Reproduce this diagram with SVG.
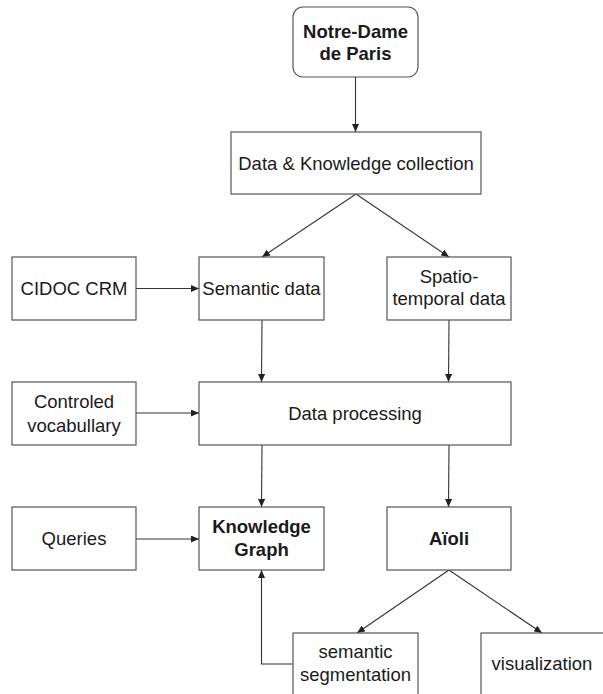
<svg xmlns="http://www.w3.org/2000/svg" width="603" height="694" viewBox="0 0 603 694">
<defs>
<marker id="arr" markerUnits="userSpaceOnUse" markerWidth="8" markerHeight="7" refX="8" refY="3.5" orient="auto">
<path d="M0,0 L8,3.5 L0,7 z" fill="#222"/>
</marker>
<style>
.box{fill:#fff;stroke:#555;stroke-width:1.2}
.t{font-family:"Liberation Sans",Arial,sans-serif;font-size:18.5px;fill:#1a1a1a;text-anchor:middle}
.b{font-weight:bold}
.c{fill:none;stroke:#333;stroke-width:1.1;marker-end:url(#arr)}
</style>
</defs>
<rect width="603" height="694" fill="#fff"/>
<g id="connectors">
<path class="c" d="M355.5,77 L355.5,132"/>
<path class="c" d="M356,194 L262,257"/>
<path class="c" d="M356,194 L449,257"/>
<path class="c" d="M136,288.5 L199,288.5"/>
<path class="c" d="M262,320 L261.5,382"/>
<path class="c" d="M449,320 L448.5,382"/>
<path class="c" d="M136,413 L199,413"/>
<path class="c" d="M262,445 L261.5,507"/>
<path class="c" d="M449,445 L448.5,507"/>
<path class="c" d="M136,539 L199,539"/>
<path class="c" d="M449,570 L357,633"/>
<path class="c" d="M449,570 L542,633"/>
<path class="c" d="M293,664 L261.5,664 L261.5,570"/>
</g>
<g id="notre-dame">
<rect class="box" x="293" y="7" width="125" height="70" rx="10"/>
<text class="t b" x="355.5" y="37.5">Notre-Dame</text>
<text class="t b" x="355.5" y="59.5">de Paris</text>
</g>
<g id="collection">
<rect class="box" x="231" y="132" width="250" height="62"/>
<text class="t" x="356" y="169.5">Data &amp; Knowledge collection</text>
</g>
<g id="cidoc">
<rect class="box" x="12" y="257" width="124" height="63"/>
<text class="t" x="74" y="295">CIDOC CRM</text>
</g>
<g id="semantic-data">
<rect class="box" x="199" y="257" width="125" height="63"/>
<text class="t" x="261.5" y="295">Semantic data</text>
</g>
<g id="spatio">
<rect class="box" x="387" y="257" width="124" height="63"/>
<text class="t" x="449" y="282.5">Spatio-</text>
<text class="t" x="449" y="305">temporal data</text>
</g>
<g id="vocabulary">
<rect class="box" x="12" y="382" width="124" height="63"/>
<text class="t" x="74" y="408">Controled</text>
<text class="t" x="74" y="432">vocabullary</text>
</g>
<g id="processing">
<rect class="box" x="199" y="382" width="312" height="63"/>
<text class="t" x="355" y="420">Data processing</text>
</g>
<g id="queries">
<rect class="box" x="12" y="507" width="124" height="63"/>
<text class="t" x="74" y="545">Queries</text>
</g>
<g id="knowledge-graph">
<rect class="box" x="199" y="507" width="125" height="63"/>
<text class="t b" x="261.5" y="533">Knowledge</text>
<text class="t b" x="261.5" y="555.5">Graph</text>
</g>
<g id="aioli">
<rect class="box" x="387" y="507" width="124" height="63"/>
<text class="t b" x="449" y="545">Aïoli</text>
</g>
<g id="segmentation">
<rect class="box" x="293" y="633" width="125" height="63"/>
<text class="t" x="355.5" y="658">semantic</text>
<text class="t" x="355.5" y="680.5">segmentation</text>
</g>
<g id="visualization">
<rect class="box" x="481" y="633" width="125" height="63"/>
<text class="t" x="542" y="670">visualization</text>
</g>
</svg>
